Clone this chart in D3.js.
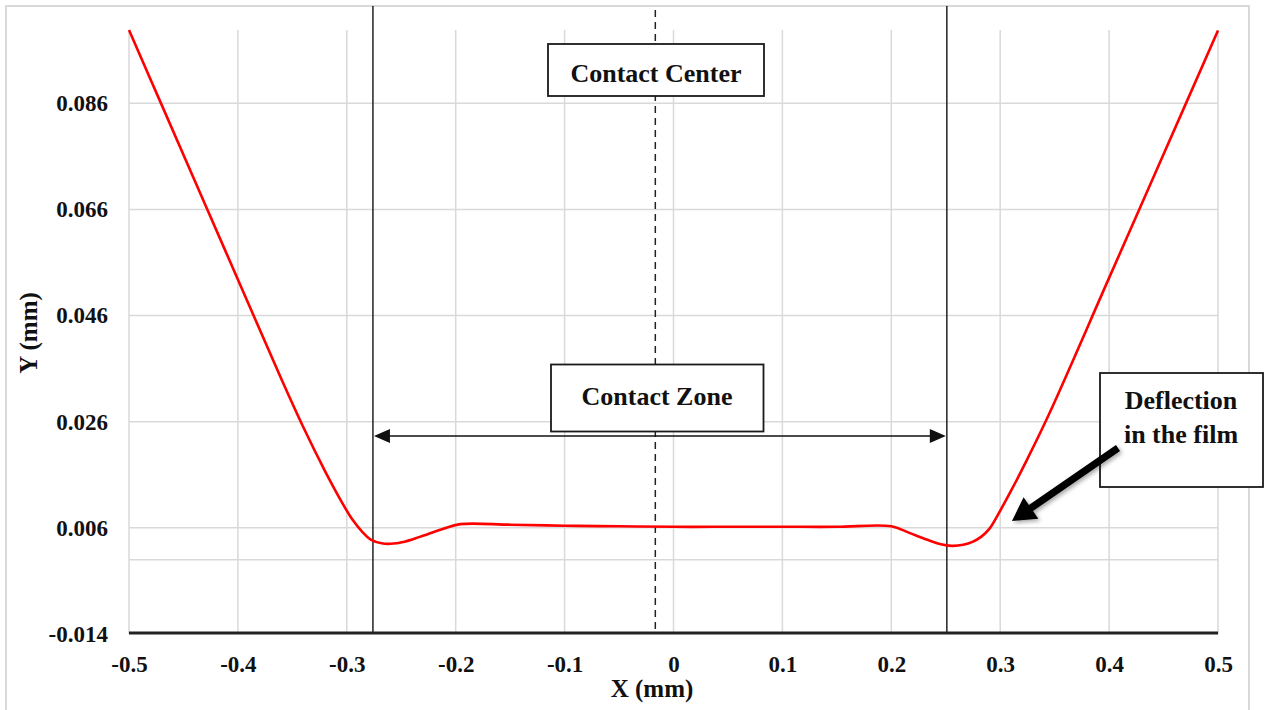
<!DOCTYPE html>
<html>
<head>
<meta charset="utf-8">
<script src="https://cdn.jsdelivr.net/npm/d3@7"></script>
<style>
  html, body { margin: 0; padding: 0; background: #fff; }
  svg { display: block; }
  text { font-family: "Liberation Serif", "Times New Roman", serif; font-weight: bold; fill: #111; }
</style>
</head>
<body>
<svg id="chart" width="1266" height="710"></svg>
<script>
// ---- data ----
const profileX = [-0.5, -0.47, -0.43, -0.386, -0.36, -0.34, -0.32, -0.305, -0.295, -0.286, -0.278, -0.268, -0.26, -0.247, -0.233, -0.212, -0.196,
  -0.15, -0.1, -0.05, 0, 0.05, 0.1, 0.15, 0.2, 0.216, 0.2325, 0.2455, 0.2555, 0.266, 0.275, 0.283, 0.29, 0.298, 0.31, 0.325, 0.345, 0.4, 0.45, 0.5];
const profileY = [0.0998, 0.0857, 0.0669, 0.0462, 0.0340, 0.0250, 0.0167, 0.0110, 0.0076, 0.0053, 0.0038, 0.0031, 0.0030, 0.0034, 0.0043, 0.0058, 0.0067,
  0.0066, 0.0064, 0.0063, 0.0062, 0.0062, 0.0062, 0.0062, 0.0063, 0.0051, 0.0038, 0.0029, 0.0026, 0.0028, 0.0034, 0.0044, 0.0058, 0.0085, 0.0130, 0.0190, 0.0275, 0.0531, 0.0764, 0.0997];
const xTicks = [-0.5, -0.4, -0.3, -0.2, -0.1, 0, 0.1, 0.2, 0.3, 0.4, 0.5];
const yTicks = [-0.014, 0.006, 0.026, 0.046, 0.066, 0.086];
const yExtraGrid = [0];
const xTitle = "X (mm)";
const yTitle = "Y (mm)";
const contactZoneBounds = [-0.276, 0.251];
const contactCenterX = -0.0167;
const labelCenter = "Contact Center";
const labelZone = "Contact Zone";
const labelDeflection = ["Deflection", "in the film"];

// ---- chart ----
const svg = d3.select("#chart");
const x = d3.scaleLinear().domain([-0.5, 0.5]).range([129, 1218]);
const y = d3.scaleLinear().domain([-0.014, 0.1]).range([634, 29]);

// outer border
svg.append("rect").attr("x", 6).attr("y", 6).attr("width", 1243).attr("height", 720)
  .attr("fill", "none").attr("stroke", "#d9d9d9").attr("stroke-width", 2);

// gridlines
const grid = svg.append("g");
grid.selectAll("line.v").data(xTicks).join("line")
  .attr("x1", d => x(d)).attr("x2", d => x(d))
  .attr("y1", 30).attr("y2", y(-0.014))
  .attr("stroke", "#d9d9d9").attr("stroke-width", 1.5);
grid.selectAll("line.h").data(yTicks.slice(1).concat(yExtraGrid)).join("line")
  .attr("x1", x(-0.5)).attr("x2", x(0.5))
  .attr("y1", d => y(d)).attr("y2", d => y(d))
  .attr("stroke", "#d9d9d9").attr("stroke-width", 1.5);

// axes (labels only), plain hyphen-minus like the reference
const fixMinus = s => s.replace("\u2212", "-");
const fmtX = d => d === 0 ? "0" : fixMinus(d3.format(".1f")(d));
const fmtY = d => fixMinus(d3.format(".3f")(d));
const gx = svg.append("g").attr("transform", `translate(0,${y(-0.014)})`)
  .call(d3.axisBottom(x).tickValues(xTicks).tickFormat(fmtX).tickSize(0).tickPadding(22));
gx.select(".domain").remove();
gx.selectAll("text").attr("font-size", 23).attr("fill", "#111");

const gy = svg.append("g").attr("transform", `translate(${x(-0.5)},0)`)
  .call(d3.axisLeft(y).tickValues(yTicks).tickFormat(fmtY).tickSize(0).tickPadding(21));
gy.select(".domain").remove();
gy.selectAll("text").attr("font-size", 23).attr("fill", "#111");

// thick bottom axis line
svg.append("line").attr("x1", x(-0.5)).attr("x2", x(0.5))
  .attr("y1", y(-0.014) - 1).attr("y2", y(-0.014) - 1)
  .attr("stroke", "#222").attr("stroke-width", 3);

// axis titles
svg.append("text").attr("x", 652).attr("y", 697).attr("text-anchor", "middle")
  .attr("font-size", 25).text(xTitle);
svg.append("text").attr("transform", "translate(37,333) rotate(-90)").attr("text-anchor", "middle")
  .attr("font-size", 25).text(yTitle);

// contact zone vertical lines
svg.selectAll("line.cz").data(contactZoneBounds).join("line")
  .attr("x1", d => x(d)).attr("x2", d => x(d))
  .attr("y1", 6).attr("y2", y(-0.014) - 2)
  .attr("stroke", "#222").attr("stroke-width", 1.5);

// contact center dashed line
svg.append("line").attr("x1", x(contactCenterX)).attr("x2", x(contactCenterX))
  .attr("y1", 10).attr("y2", y(-0.014) - 2)
  .attr("stroke", "#222").attr("stroke-width", 1.5).attr("stroke-dasharray", "7,5");

// profile curve
const pts = profileX.map((d, i) => [d, profileY[i]]);
svg.append("path").datum(pts)
  .attr("d", d3.line().x(d => x(d[0])).y(d => y(d[1])).curve(d3.curveCatmullRom.alpha(0.5)))
  .attr("fill", "none").attr("stroke", "#ff0000").attr("stroke-width", 2.6);

// double arrow for contact zone
const ay = 436;
const xl = x(contactZoneBounds[0]) + 1, xr = x(contactZoneBounds[1]) - 1;
svg.append("line").attr("x1", xl + 10).attr("x2", xr - 10).attr("y1", ay).attr("y2", ay)
  .attr("stroke", "#111").attr("stroke-width", 1.5);
svg.append("path").attr("d", `M${xl},${ay} L${xl + 16},${ay - 7} L${xl + 16},${ay + 7} Z`).attr("fill", "#111");
svg.append("path").attr("d", `M${xr},${ay} L${xr - 16},${ay - 7} L${xr - 16},${ay + 7} Z`).attr("fill", "#111");

// boxes
function box(x0, y0, w, h) {
  svg.append("rect").attr("x", x0).attr("y", y0).attr("width", w).attr("height", h)
    .attr("fill", "#fff").attr("stroke", "#1a1a1a").attr("stroke-width", 1.8);
}
box(548, 44, 216, 52);
svg.append("text").attr("x", 656).attr("y", 81.5).attr("text-anchor", "middle").attr("font-size", 26).text(labelCenter);

box(551, 364.5, 212.5, 67);
svg.append("text").attr("x", 657).attr("y", 405).attr("text-anchor", "middle").attr("font-size", 26).text(labelZone);

box(1100, 373, 163, 114);
svg.append("text").attr("x", 1181).attr("y", 409).attr("text-anchor", "middle").attr("font-size", 26).text(labelDeflection[0]);
svg.append("text").attr("x", 1181).attr("y", 443).attr("text-anchor", "middle").attr("font-size", 26).text(labelDeflection[1]);

// deflection arrow
const defs = svg.append("defs");
const f = defs.append("filter").attr("id", "sh").attr("x", "-20%").attr("y", "-20%").attr("width", "150%").attr("height", "150%");
f.append("feDropShadow").attr("dx", 2).attr("dy", 2).attr("stdDeviation", 2).attr("flood-color", "#000").attr("flood-opacity", 0.35);
(function () {
  const tail = [1118, 448], tip = [1012, 521];
  const dx = tip[0] - tail[0], dy = tip[1] - tail[1];
  const L = Math.hypot(dx, dy), ux = dx / L, uy = dy / L, px = -uy, py = ux;
  const hl = 23, hw = 13, sw = 3.6;
  const bx = tip[0] - ux * hl, by = tip[1] - uy * hl;
  const p = [
    [tail[0] + px * sw, tail[1] + py * sw],
    [bx + px * sw, by + py * sw],
    [bx + px * hw, by + py * hw],
    tip,
    [bx - px * hw, by - py * hw],
    [bx - px * sw, by - py * sw],
    [tail[0] - px * sw, tail[1] - py * sw]
  ];
  svg.append("path").attr("d", "M" + p.map(q => q.join(",")).join("L") + "Z")
    .attr("fill", "#000").attr("filter", "url(#sh)");
})();
</script>
</body>
</html>
